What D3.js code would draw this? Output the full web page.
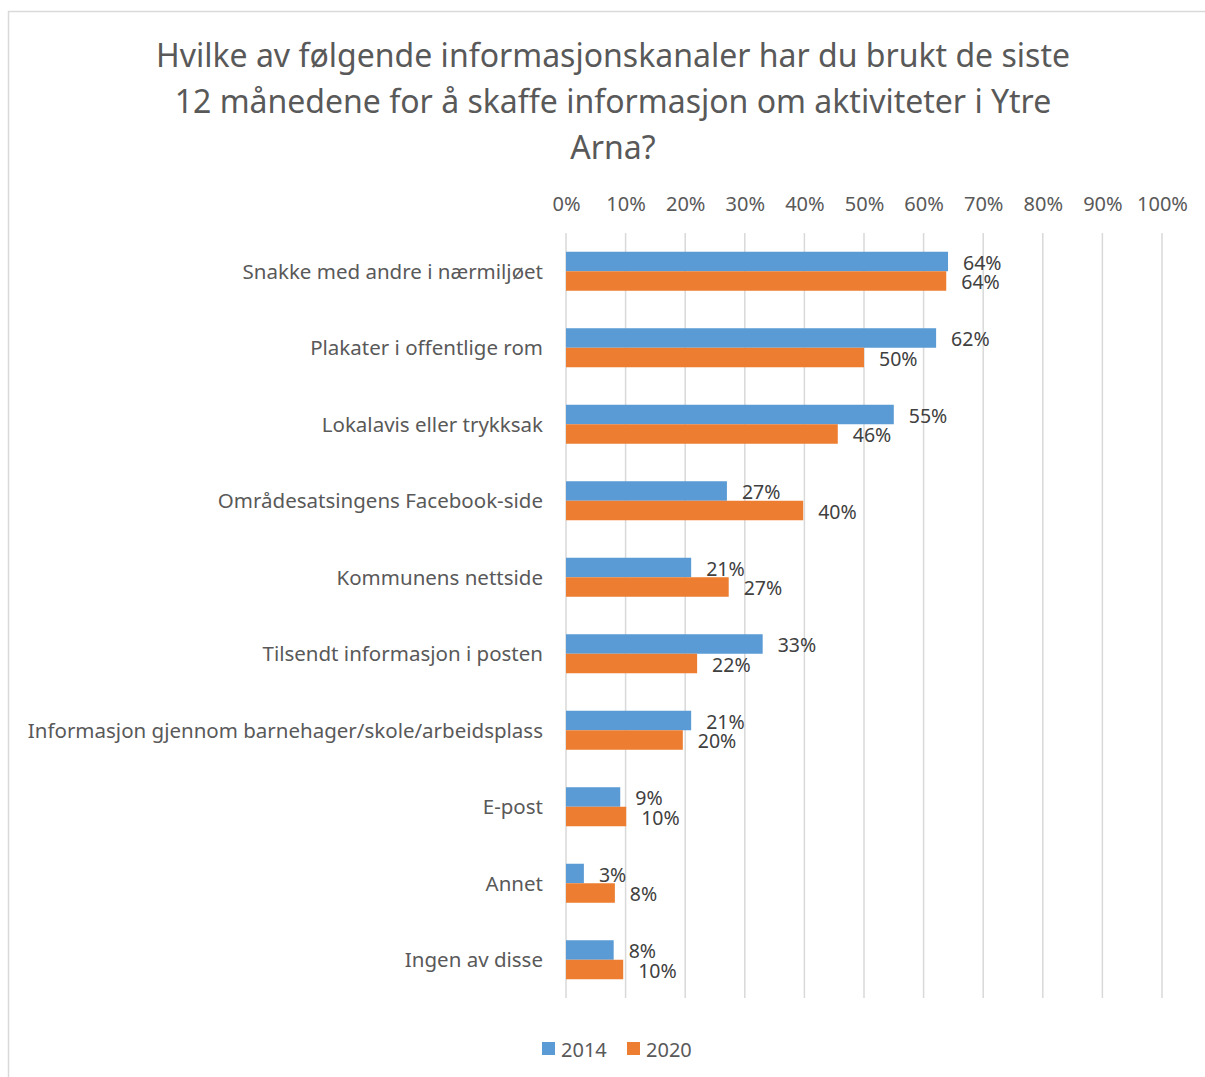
<!DOCTYPE html>
<html>
<head>
<meta charset="utf-8">
<script src="https://cdn.jsdelivr.net/npm/d3@7"></script>
<style>
	body { margin: 0; background: #fff; }
	svg { display: block; font-family: "Noto Sans", sans-serif; }
</style>
</head>
<body>
<div id="chart"></div>
<script>
// data
var categories = [
	"Snakke med andre i nærmiljøet",
	"Plakater i offentlige rom",
	"Lokalavis eller trykksak",
	"Områdesatsingens Facebook-side",
	"Kommunens nettside",
	"Tilsendt informasjon i posten",
	"Informasjon gjennom barnehager/skole/arbeidsplass",
	"E-post",
	"Annet",
	"Ingen av disse"
];
var series = ["2014", "2020"];
var values2014 = [64.1, 62.1, 55.0, 27.0, 21.0, 33.0, 21.0, 9.1, 3.0, 8.0];
var values2020 = [63.8, 50.0, 45.6, 39.8, 27.3, 22.0, 19.6, 10.1, 8.2, 9.6];
var tickValues = [0, 10, 20, 30, 40, 50, 60, 70, 80, 90, 100];
var titleLines = [
	"Hvilke av følgende informasjonskanaler har du brukt de siste",
	"12 månedene for å skaffe informasjon om aktiviteter i Ytre",
	"Arna?"
];

var width = 1205, height = 1077;
var colors = { "2014": "#5B9BD5", "2020": "#ED7D31" };

var svg = d3.select("#chart").append("svg")
	.attr("width", width)
	.attr("height", height);

// chart area border (runs off the right and bottom edges)
svg.append("rect")
	.attr("x", 8.5).attr("y", 11.5)
	.attr("width", 1300).attr("height", 1200)
	.attr("fill", "#fff")
	.attr("stroke", "#d9d9d9")
	.attr("stroke-width", 1.5);

// title
svg.append("text")
	.attr("text-anchor", "middle")
	.attr("fill", "#595959")
	.attr("font-size", 32)
	.selectAll("tspan")
	.data(titleLines)
	.join("tspan")
	.attr("x", 613)
	.attr("y", function(d, i) { return 67 + i * 46; })
	.text(function(d) { return d; });

var x = d3.scaleLinear().domain([0, 100]).range([566, 1162]);
var y = d3.scaleBand().domain(categories).range([233, 998])
	.paddingInner(0.49).paddingOuter(0.245);
var ySub = d3.scaleBand().domain(series).range([0, y.bandwidth()]);

// gridlines
svg.append("g")
	.selectAll("line")
	.data(tickValues)
	.join("line")
	.attr("x1", function(d) { return x(d); })
	.attr("x2", function(d) { return x(d); })
	.attr("y1", 233)
	.attr("y2", 998)
	.attr("stroke", "#d9d9d9")
	.attr("stroke-width", 1.5);

// top axis labels
var xAxis = d3.axisTop(x)
	.tickValues(tickValues)
	.tickFormat(function(d) { return d + "%"; })
	.tickSize(0)
	.tickPadding(0);

var axisG = svg.append("g")
	.attr("transform", "translate(0,211)")
	.call(xAxis);
axisG.select(".domain").remove();
axisG.selectAll("text")
	.attr("font-size", 20)
	.attr("font-family", "Noto Sans, sans-serif")
	.attr("fill", "#595959");

// category labels
var yAxis = d3.axisLeft(y).tickSize(0).tickPadding(0);
var yG = svg.append("g")
	.attr("transform", "translate(543,1)")
	.call(yAxis);
yG.select(".domain").remove();
yG.selectAll("text")
	.attr("font-size", 20.5)
	.attr("font-family", "Noto Sans, sans-serif")
	.attr("fill", "#595959");

// bars
var rows = categories.map(function(c, i) {
	return { category: c, values: [
		{ key: "2014", value: values2014[i] },
		{ key: "2020", value: values2020[i] }
	]};
});

var groups = svg.append("g")
	.selectAll("g")
	.data(rows)
	.join("g")
	.attr("transform", function(d) { return "translate(0," + y(d.category) + ")"; });

groups.selectAll("rect")
	.data(function(d) { return d.values; })
	.join("rect")
	.attr("x", x(0))
	.attr("y", function(d) { return ySub(d.key); })
	.attr("width", function(d) { return x(d.value) - x(0); })
	.attr("height", ySub.bandwidth())
	.attr("fill", function(d) { return colors[d.key]; });

groups.selectAll("text")
	.data(function(d) { return d.values; })
	.join("text")
	.attr("x", function(d) { return x(d.value) + 15; })
	.attr("y", function(d) { return ySub(d.key) + ySub.bandwidth() / 2 + 1.5; })
	.attr("dy", "0.35em")
	.attr("font-size", 19.5)
	.attr("fill", "#404040")
	.text(function(d) { return Math.round(d.value) + "%"; });

// legend
var legend = svg.append("g")
	.attr("transform", "translate(542,1042)")
	.selectAll("g")
	.data(series)
	.join("g")
	.attr("transform", function(d, i) { return "translate(" + (i * 85) + ",0)"; });

legend.append("rect")
	.attr("width", 13)
	.attr("height", 13)
	.attr("fill", function(d) { return colors[d]; });

legend.append("text")
	.attr("x", 19)
	.attr("y", 8)
	.attr("dy", "0.35em")
	.attr("font-size", 20)
	.attr("fill", "#595959")
	.text(function(d) { return d; });
</script>
</body>
</html>
